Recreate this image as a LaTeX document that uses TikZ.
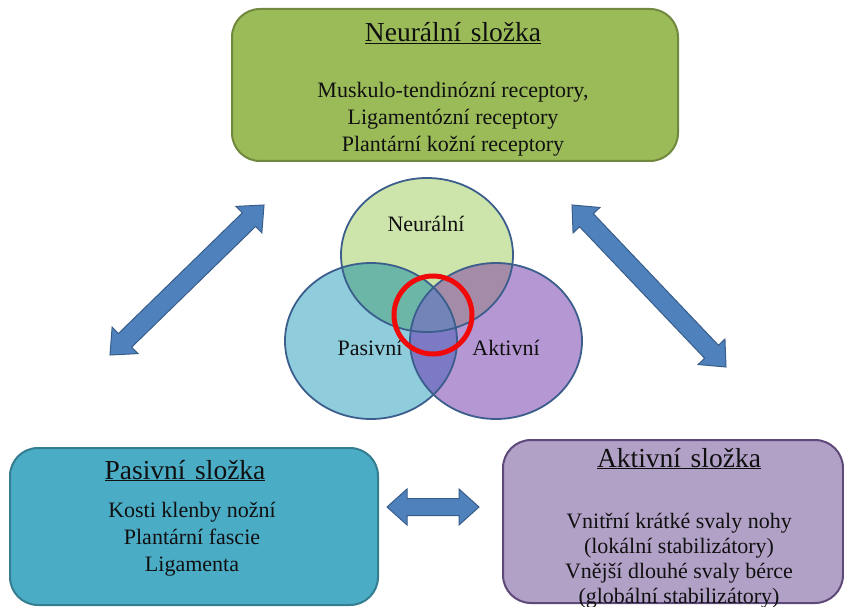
\documentclass[tikz,border=0pt]{standalone}
\usepackage{fontspec}
\setmainfont{Liberation Serif}
\usetikzlibrary{calc}
\definecolor{nfill}{HTML}{9BBB59}
\definecolor{nline}{HTML}{71893F}
\definecolor{pfill}{HTML}{4BACC6}
\definecolor{pline}{HTML}{357D91}
\definecolor{afill}{HTML}{B2A1C7}
\definecolor{aline}{HTML}{5F497A}
\definecolor{arrowfill}{HTML}{4F81BD}
\definecolor{arrowline}{HTML}{385D8A}
\definecolor{vline}{HTML}{3B5E8C}
\definecolor{vN}{HTML}{CDE4AA}
\definecolor{vP}{HTML}{8FCDDD}
\definecolor{vA}{HTML}{B597D3}
\definecolor{vNP}{HTML}{6CB6A8}
\definecolor{vNA}{HTML}{A48CA8}
\definecolor{vPA}{HTML}{7C7AC4}
\definecolor{vNPA}{HTML}{7385B8}
\definecolor{txt}{HTML}{101010}
\definecolor{ringred}{HTML}{F00A0A}
\newcommand\barrowdraw[5]{%
  \path ($(#1)!#3!(#2)$) coordinate (ba-p) ($(#2)!#3!(#1)$) coordinate (ba-q);
  \draw[blockarrow] (#1) -- ($(ba-p)!#4!90:(#2)$) -- ($(ba-p)!#5!90:(#2)$)
    -- ($(ba-q)!#5!-90:(#1)$) -- ($(ba-q)!#4!-90:(#1)$) -- (#2)
    -- ($(ba-q)!#4!90:(#1)$) -- ($(ba-q)!#5!90:(#1)$)
    -- ($(ba-p)!#5!-90:(#2)$) -- ($(ba-p)!#4!-90:(#2)$) -- cycle;}
\def\vennNcirc{(427,255) ellipse [x radius=86pt, y radius=77pt]}
\def\vennPcirc{(371,341) ellipse [x radius=86pt, y radius=78pt]}
\def\vennAcirc{(496,341) ellipse [x radius=86pt, y radius=78pt]}
\begin{document}
\begin{tikzpicture}[x=1pt,y=-1pt,
  box/.style={rounded corners=28pt, line width=2pt, inner sep=0pt},
  boxtitle/.style={anchor=base, inner sep=0pt, text=txt, font=\fontsize{27.5}{32}\selectfont},
  boxline/.style={anchor=base, inner sep=0pt, text=txt, font=\fontsize{22}{26}\selectfont},
  vennlabel/.style={anchor=base, inner sep=0pt, text=txt, font=\fontsize{22}{26}\selectfont},
  blockarrow/.style={draw=arrowline, fill=arrowfill, line width=1pt, line join=miter},
  vennedge/.style={draw=vline, line width=1.8pt}]
\useasboundingbox (0,0) rectangle (844,607);
\clip (0,0) rectangle (844,607);
% boxes
\node[box, draw=nline, fill=nfill, minimum width=446pt, minimum height=152pt] (neural) at (455,85) {};
\node[box, draw=pline, fill=pfill, minimum width=368pt, minimum height=157pt] (pasivni) at (194,526.5) {};
\node[box, draw=aline, fill=afill, minimum width=340pt, minimum height=163pt] (aktivni) at (673,521.5) {};
% texts of the top box
\node[boxtitle] (neural-t) at (453,42) {\underline{Neurální\hspace{0.35em}složka}};
\node[boxline] (neural-1) at (453,98) {Muskulo-tendinózní receptory,};
\node[boxline] (neural-2) at (453,125) {Ligamentózní receptory};
\node[boxline] (neural-3) at (453,152) {Plantární kožní receptory};
% texts of the passive box
\node[boxtitle] (pasivni-t) at (185,479) {\underline{Pasivní\hspace{0.35em}složka}};
\node[boxline] (pasivni-1) at (192,517) {Kosti klenby nožní};
\node[boxline] (pasivni-2) at (192,544) {Plantární fascie};
\node[boxline] (pasivni-3) at (192,571) {Ligamenta};
% texts of the active box
\node[boxtitle] (aktivni-t) at (679,467) {\underline{Aktivní\hspace{0.35em}složka}};
\node[boxline] (aktivni-1) at (679,528) {Vnitřní krátké svaly nohy};
\node[boxline] (aktivni-2) at (679,553) {(lokální stabilizátory)};
\node[boxline] (aktivni-3) at (679,578) {Vnější dlouhé svaly bérce};
\node[boxline] (aktivni-4) at (679,603) {(globální stabilizátory)};
% block arrows
\coordinate (la-low) at (110,355);
\coordinate (la-up) at (264,205);
\coordinate (ra-up) at (572,205);
\coordinate (ra-low) at (726,367);
\coordinate (ha-l) at (387,507);
\coordinate (ha-r) at (479,507);
\barrowdraw{la-low}{la-up}{21pt}{18.5pt}{9.5pt}
\barrowdraw{ra-up}{ra-low}{21pt}{18.5pt}{9.5pt}
\barrowdraw{ha-l}{ha-r}{20pt}{18pt}{8.5pt}
% venn diagram
\fill[vN] \vennNcirc;
\fill[vP] \vennPcirc;
\fill[vA] \vennAcirc;
\begin{scope}
  \clip \vennPcirc;
  \fill[vPA] \vennAcirc;
\end{scope}
\begin{scope}
  \clip \vennNcirc;
  \fill[vNP] \vennPcirc;
  \fill[vNA] \vennAcirc;
  \clip \vennPcirc;
  \fill[vNPA] \vennAcirc;
\end{scope}
\path[vennedge] \vennNcirc;
\path[vennedge] \vennPcirc;
\path[vennedge] \vennAcirc;
\node[vennlabel] (venn-n) at (426,232) {Neurální};
\node[vennlabel] (venn-p) at (370,355) {Pasivní};
\node[vennlabel] (venn-a) at (506,355) {Aktivní};
\draw[draw=ringred, line width=5pt] (433,315) circle [radius=39pt];
\end{tikzpicture}
\end{document}
